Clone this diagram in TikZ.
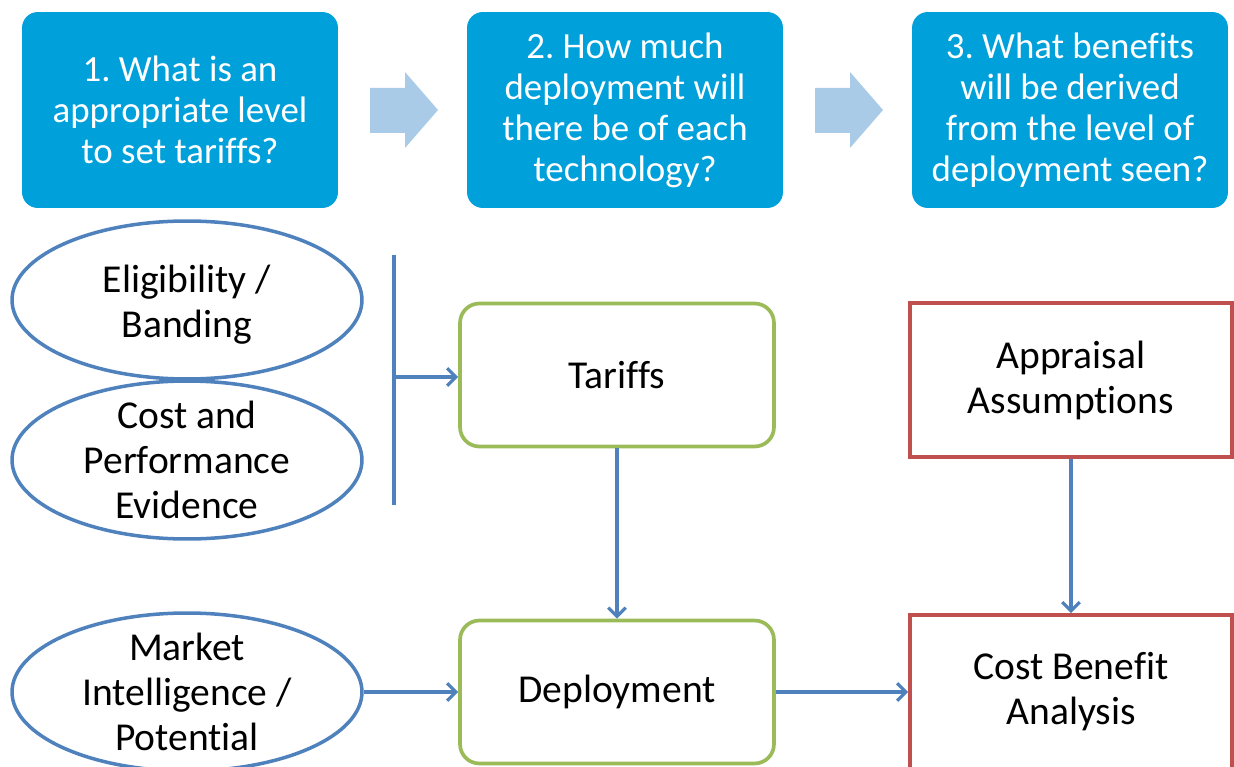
\documentclass[tikz,border=0pt]{standalone}
\usepackage{fontspec}
\setmainfont{Carlito}[Ligatures=NoCommon]
\frenchspacing
\usetikzlibrary{arrows.meta,shapes}
\usetikzlibrary{calc}
\definecolor{qblue}{RGB}{0,160,218}
\definecolor{arrowblue}{RGB}{169,203,232}
\definecolor{lineblue}{RGB}{79,129,189}
\definecolor{boxgreen}{RGB}{155,187,89}
\definecolor{boxred}{RGB}{192,80,77}
\tikzstyle{question}=[rectangle,rounded corners=9pt,fill=qblue,text=white,minimum width=6.32cm,minimum height=3.92cm,align=center,font=\fontsize{21}{23.3}\selectfont]
\tikzstyle{source}=[ellipse,draw=lineblue,line width=2pt,minimum width=7cm,minimum height=3.16cm,inner sep=0pt]
\tikzstyle{boxtext}=[align=center,font=\fontsize{22.5}{25.6}\selectfont]
\tikzstyle{process}=[boxtext,rectangle,rounded corners=11pt,draw=boxgreen,line width=2.1pt,minimum width=6.28cm,minimum height=2.86cm]
\tikzstyle{appraisal}=[boxtext,rectangle,draw=boxred,line width=2.1pt,minimum width=6.44cm,minimum height=3.08cm]
\tikzstyle{connector} = [draw,line width=1.8pt,lineblue,-{Straight Barb[length=5pt,width=10pt]}]

\begin{document}
\begin{tikzpicture}[x=0.02cm, y=-0.02cm]

    \useasboundingbox (0,0) rectangle (1234,767);

    % questions along the top
    \node[question] (q1) at (180,110) {1. What is an\\appropriate level\\to set tariffs?};
    \node[question] (q2) at (625,110) {2. How much\\deployment will\\there be of each\\technology?};
    \node[question] (q3) at (1070,110) {3. What benefits\\will be derived\\from the level of\\deployment seen?};

    \foreach \x in {370, 815}
        \fill[arrowblue] (\x,88) -- (\x+35,88) -- (\x+35,72) -- (\x+68,110) -- (\x+35,148) -- (\x+35,133) -- (\x,133) -- cycle;

    % inputs
    \foreach \pos/ \name in {{(187,300)/elig}, {(187,460)/cost}, {(187,692)/market}}
        \node[source] (\name) at \pos {};
    \node[boxtext] at (187,305) {Eligibility /\\Banding};
    \node[boxtext] at (187,460) {Cost and\\Performance\\Evidence};
    \node[boxtext] at (187,692) {Market\\Intelligence /\\Potential};

    \draw[lineblue, line width=1.8pt] (394,255) -- (394,505);
    \coordinate (bar) at (394,377);

    \node[process] (tariffs) at (617,375) {Tariffs};
    \node[process] (deploy) at (617,692) {Deployment};
    \node[appraisal] (assume) at (1071,380) {Appraisal\\Assumptions};
    \node[appraisal] (cba) at (1071,692) {Cost Benefit\\Analysis};

    % Connect boxes
    \path[connector] (bar) -- (bar -| tariffs.west);
    \foreach \source/ \dest in {tariffs/deploy, market/deploy, deploy/cba, assume/cba}
        \path[connector] (\source) -- (\dest);

\end{tikzpicture}
\end{document}
